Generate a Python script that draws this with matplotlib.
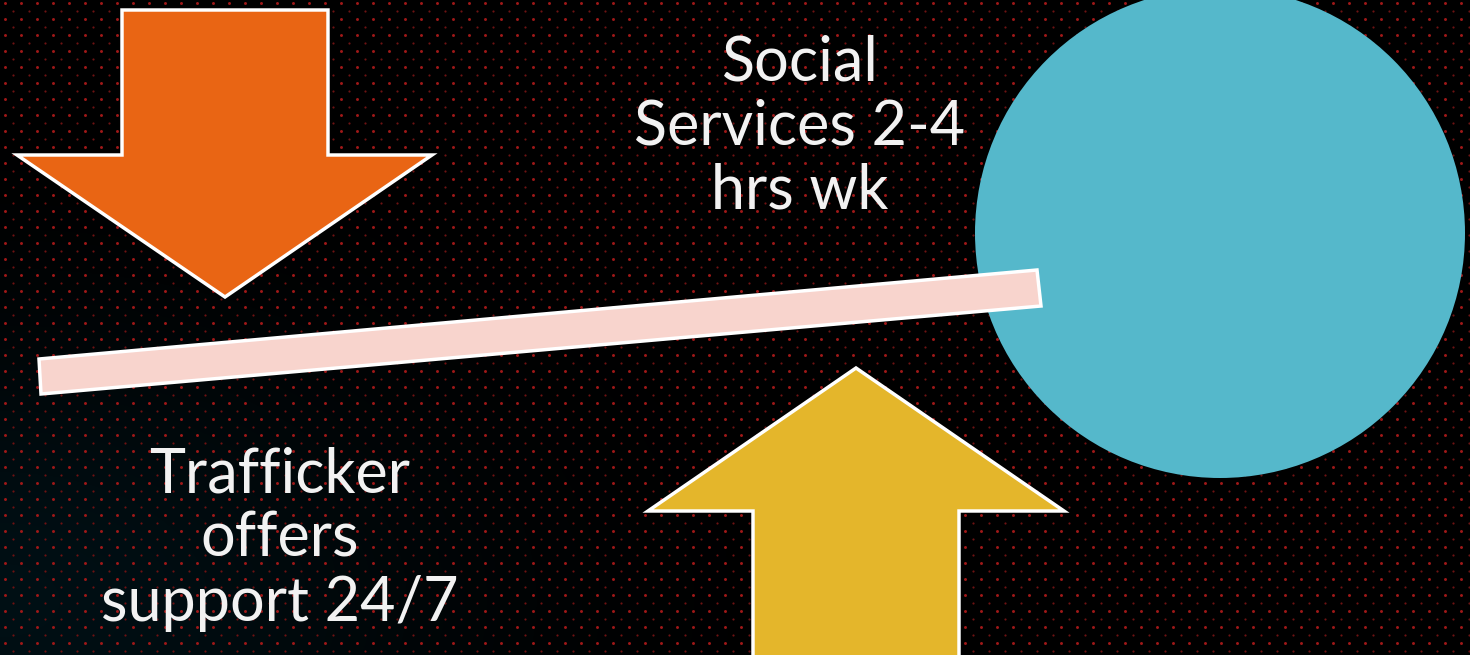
"""Seesaw diagram: trafficker support vs social services hours."""
import numpy as np
import matplotlib
matplotlib.use("Agg")
import matplotlib.pyplot as plt
from matplotlib.patches import Polygon, Circle

W, H = 1470, 655

# shapes (pixel coordinates, y down)
down_arrow = [(122, 10), (328, 10), (328, 155), (432, 155), (225, 297), (17, 155), (122, 155)]
up_arrow = [(753, 670), (753, 511), (648, 511), (856, 368), (1064, 511), (959, 511), (959, 670)]
plank = [(39, 359), (1037, 270), (1041, 306), (41, 394)]
ball_center, ball_radius = (1220, 233), 245

label_right = "Social\nServices 2-4\nhrs wk"
label_left = "Trafficker\noffers\nsupport 24/7"

ORANGE, YELLOW, PINK, TEAL = "#E96514", "#E4B62B", "#F8D4CD", "#55B8CB"

fig = plt.figure(figsize=(W / 100, H / 100), dpi=100)
ax = fig.add_axes([0, 0, 1, 1])
ax.set_xlim(0, W)
ax.set_ylim(H, 0)
ax.set_axis_off()
fig.patch.set_facecolor("black")

# faint teal glow in the lower-left corner
yy, xx = np.mgrid[0:H, 0:W]
glow = np.exp(-(((xx - 0) / 420.0) ** 2 + ((yy - 600) / 260.0) ** 2))
img = np.zeros((H, W, 3))
img[..., 1] = 0.06 * glow
img[..., 2] = 0.08 * glow
ax.imshow(img, extent=(0, W, H, 0), zorder=0, interpolation="bilinear")

# red dot grid
gx, gy = np.meshgrid(np.arange(5, W, 16), np.arange(3, H, 16))
ax.scatter(gx.ravel(), gy.ravel(), s=4.5, color="#A01818", linewidths=0, zorder=1)
gx2, gy2 = np.meshgrid(np.arange(13, W, 16), np.arange(11, H, 16))
ax.scatter(gx2.ravel(), gy2.ravel(), s=2.5, color="#6E1212", linewidths=0, zorder=1)

ax.add_patch(Circle(ball_center, ball_radius, facecolor=TEAL, edgecolor="none", zorder=2))
ax.add_patch(Polygon(plank, closed=True, facecolor=PINK, edgecolor="white", linewidth=2.5, zorder=3))
ax.add_patch(Polygon(down_arrow, closed=True, facecolor=ORANGE, edgecolor="white",
                     linewidth=2.5, joinstyle="miter", zorder=3))
ax.add_patch(Polygon(up_arrow, closed=True, facecolor=YELLOW, edgecolor="white",
                     linewidth=2.5, joinstyle="miter", zorder=3))

fam = ["Lato", "DejaVu Sans"]
ax.text(800, 127, label_right, ha="center", va="center", fontsize=44, color="#F2F2F2",
        family=fam, weight="normal", linespacing=1.16, zorder=4)
ax.text(280, 539, label_left, ha="center", va="center", fontsize=44, color="#F2F2F2",
        family=fam, weight="normal", linespacing=1.16, zorder=4)

fig.savefig("out.png", dpi=100, facecolor="black")
